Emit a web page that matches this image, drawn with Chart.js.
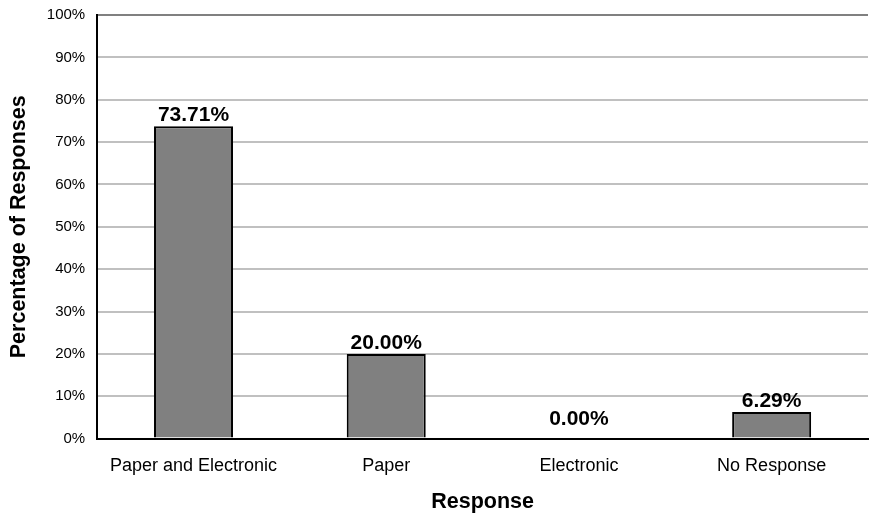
<!DOCTYPE html>
<html>
<head>
<meta charset="utf-8">
<script src="https://cdn.jsdelivr.net/npm/chart.js@4/dist/chart.umd.min.js"></script>
<style>
  html, body { margin: 0; padding: 0; background: #fff; }
  #wrap { width: 869px; height: 517px; }
</style>
</head>
<body>
<div id="wrap"><canvas id="myChart"></canvas></div>
<script>
const categories = ['Paper and Electronic', 'Paper', 'Electronic', 'No Response'];
const percentages = [73.71, 20.00, 0.00, 6.29];
const yTicks = [0, 10, 20, 30, 40, 50, 60, 70, 80, 90, 100];

Chart.defaults.font.family = 'Arial, "Liberation Sans", sans-serif';
Chart.defaults.color = '#000';

// draws the value above each bar
const barLabels = {
    id: 'barLabels',
    afterDatasetsDraw(chart) {
        const ctx = chart.ctx;
        const meta = chart.getDatasetMeta(0);
        ctx.save();
        ctx.font = 'bold 21px Arial, "Liberation Sans", sans-serif';
        ctx.fillStyle = '#000';
        ctx.textAlign = 'center';
        ctx.textBaseline = 'alphabetic';
        meta.data.forEach((bar, i) => {
            let v = percentages[i];
            let y = v === 0 ? bar.y - 14 : bar.y - 5;
            ctx.fillText(v.toFixed(2) + '%', bar.x, y);
        });
        ctx.restore();
    }
};

var myChartNode = document.getElementById('myChart').getContext('2d');
var myChart = new Chart(myChartNode, {
    type: 'bar',
    data: {
        labels: categories,
        datasets: [{
            label: 'Percentage of Responses',
            data: percentages,
            backgroundColor: '#808080',
            borderColor: '#000',
            borderWidth: 2,
            categoryPercentage: 1,
            barPercentage: 0.41
        }]
    },
    options: {
        responsive: true,
        maintainAspectRatio: false,
        animation: false,
        layout: { padding: { top: 0, right: 1, bottom: 2, left: 6 } },
        plugins: {
            legend: { display: false },
            tooltip: { enabled: false }
        },
        scales: {
            x: {
                grid: { display: false, drawTicks: false },
                border: { color: '#000', width: 2 },
                ticks: { font: { size: 18 }, padding: 17, maxRotation: 0 },
                title: {
                    display: true,
                    text: 'Response',
                    font: { size: 21.5, weight: 'bold' },
                    padding: { top: -5, bottom: 0 }
                }
            },
            y: {
                min: 0,
                max: 100,
                afterBuildTicks: (axis) => { axis.ticks = yTicks.map(v => ({ value: v })); },
                afterFit: (axis) => { axis.paddingTop = 15; },
                grid: {
                    color: (c) => c.tick && c.tick.value === 100 ? '#808080' : '#c0c0c0',
                    lineWidth: 2,
                    drawTicks: false
                },
                border: { color: '#000', width: 2 },
                ticks: {
                    font: { size: 15 },
                    padding: 12,
                    callback: (v) => v + '%'
                },
                title: {
                    display: true,
                    text: 'Percentage of Responses',
                    font: { size: 21.5, weight: 'bold' },
                    padding: { top: 0, bottom: 3 }
                }
            }
        }
    },
    plugins: [barLabels]
});
</script>
</body>
</html>
